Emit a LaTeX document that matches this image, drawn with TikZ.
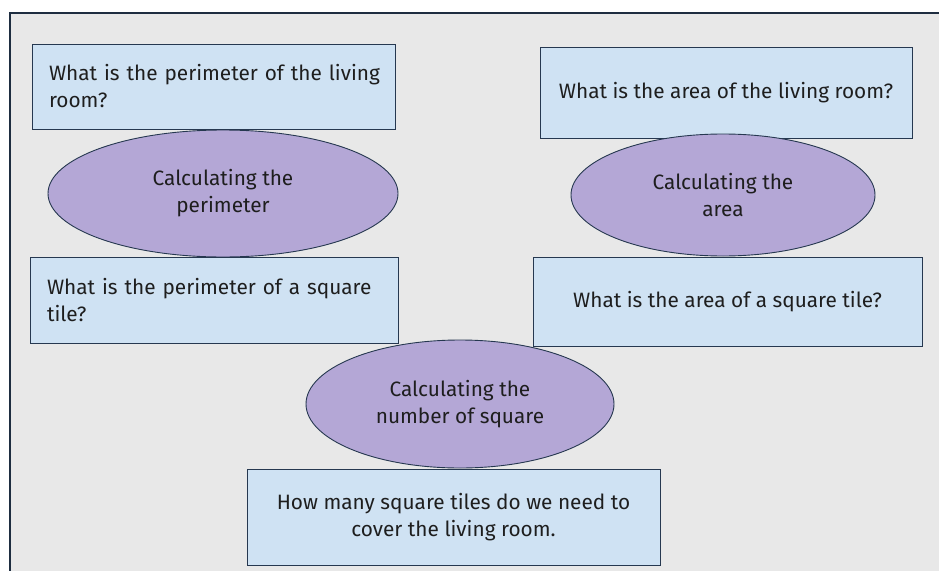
\documentclass[tikz,border=0pt]{standalone}
\usepackage{fontspec}
\setmainfont{Fira Sans}
\usepackage{xcolor}
\usetikzlibrary{shapes.geometric}

\definecolor{pagegray}{RGB}{232,232,232}
\definecolor{boxblue}{RGB}{207,226,243}
\definecolor{calcpurple}{RGB}{180,167,214}
\definecolor{boxline}{RGB}{38,56,80}
\definecolor{qtext}{RGB}{30,30,30}

\newcommand{\qfont}{\fontsize{20.8}{27}\selectfont}

\tikzset{
  qbox/.style={draw=boxline, fill=boxblue, line width=0.9pt, inner ysep=0pt, font=\qfont, text=qtext},
  qleft/.style={qbox, align=left, inner xsep=17pt},
  qcenter/.style={qbox, align=center, inner xsep=0pt},
  calc/.style={ellipse, draw=boxline, fill=calcpurple, line width=0.9pt, inner sep=0pt, align=center, font=\qfont, text=qtext},
}

\begin{document}
\begin{tikzpicture}[x=1pt, y=-1pt]

  \clip (0,0) rectangle (939,570);
  \fill[white] (0,0) rectangle (939,570);

  % Frame
  \draw[fill=pagegray, draw=boxline!80!black, line width=2pt] (10,12.5) rectangle (960,590);

  % Left column
  \begin{scope}
    \node[qleft, text width=329pt, minimum height=85pt, inner xsep=17pt] (perroom) at (213.5,86.5)
      {\mbox{What is the perimeter of the living}\\room?};
    \node[calc, minimum width=350pt, minimum height=127pt] (calcper) at (223,193.5)
      {Calculating the\\perimeter};
    \node[qleft, text width=334pt, minimum height=86pt] (pertile) at (214,300)
      {What is the perimeter of a square\\tile?};
  \end{scope}

  % Right column
  \begin{scope}
    \node[qcenter, minimum width=372pt, minimum height=91pt] (arearoom) at (726,92.5)
      {What is the area of the living room?};
    \node[calc, minimum width=304pt, minimum height=122pt] (calcarea) at (723,195)
      {Calculating the\\area};
    \node[qcenter, minimum width=389pt, minimum height=89pt] (areatile) at (727.5,301.5)
      {What is the area of a square tile?};
  \end{scope}

  % Bottom
  \begin{scope}
    \node[calc, minimum width=308pt, minimum height=128pt] (calcnum) at (460,404)
      {Calculating the\\number of square};
    \node[qcenter, minimum width=413pt, minimum height=96pt] (numtiles) at (453.5,517)
      {How many square tiles do we need to\\cover the living room.};
  \end{scope}

\end{tikzpicture}
\end{document}
